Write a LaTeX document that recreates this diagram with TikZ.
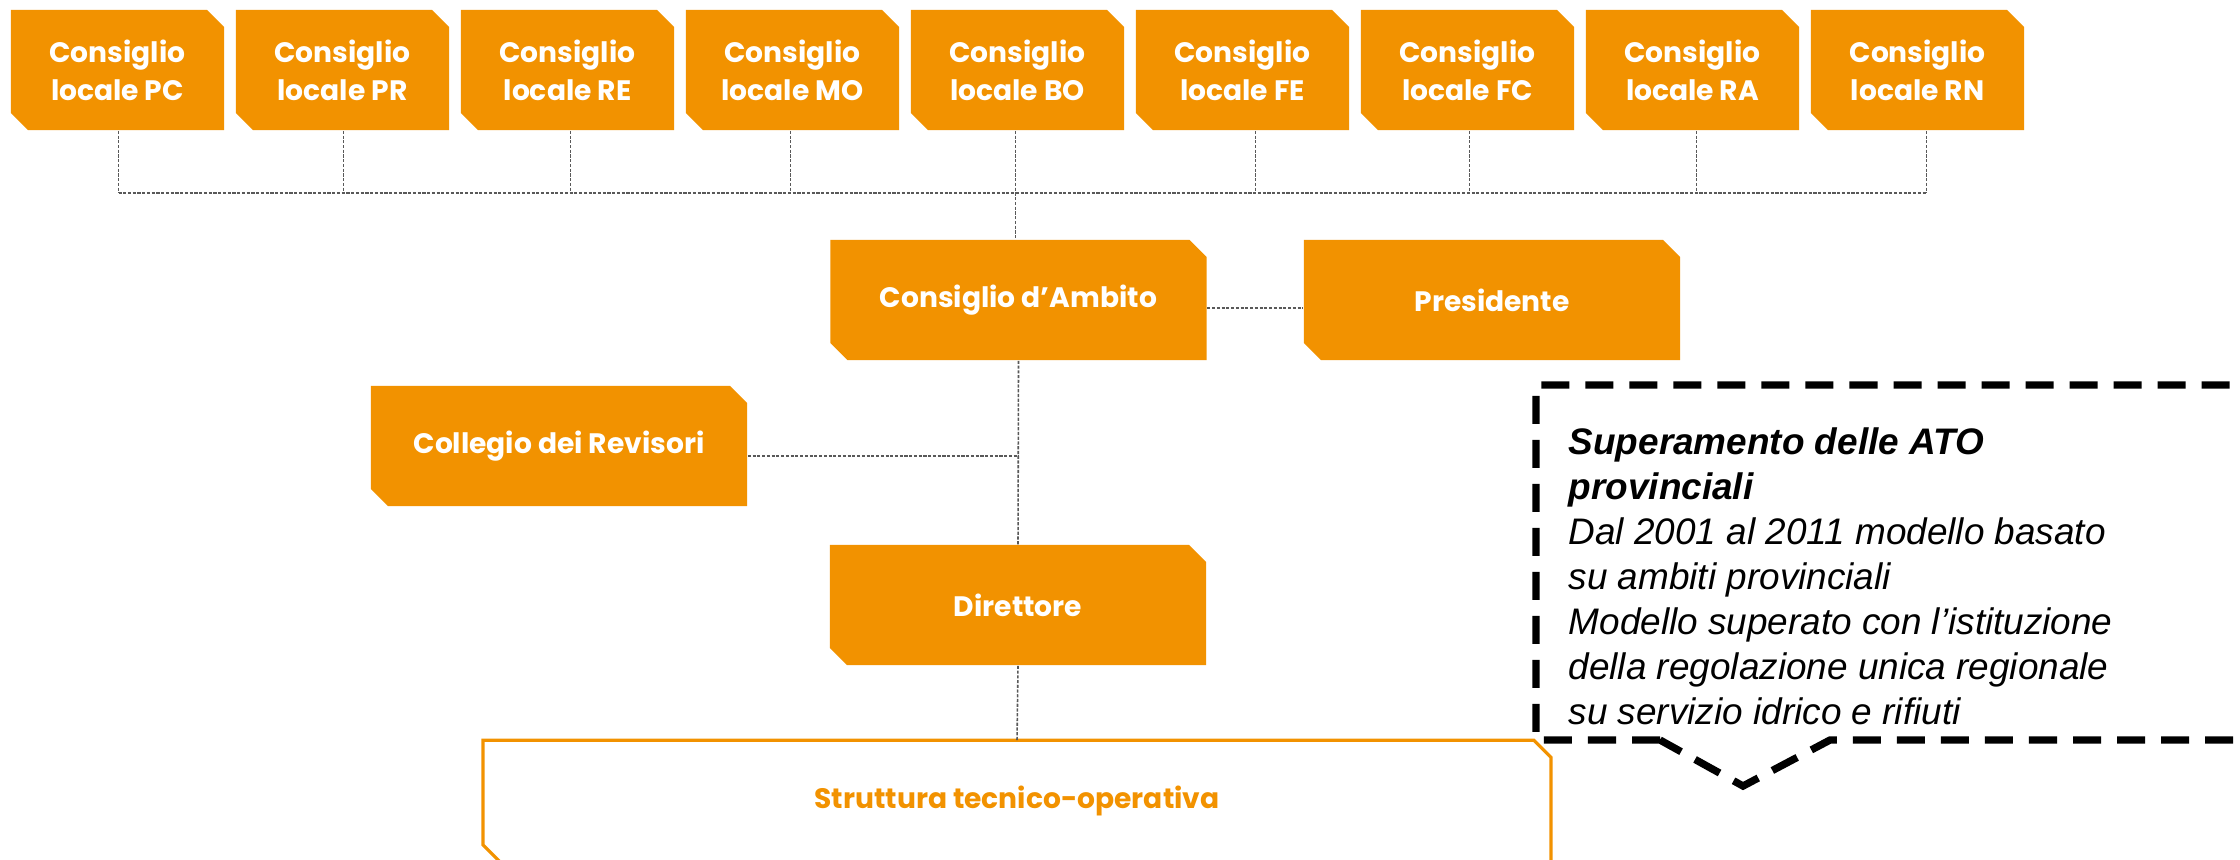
\documentclass[tikz,border=0pt]{standalone}
\usepackage{fontspec}
\newfontfamily\boxfont{Poppins}
\newfontfamily\notefont{Liberation Sans}
\usetikzlibrary{calc}
\definecolor{accent}{RGB}{242,146,0}
\newcommand{\cutsize}{0.17cm}
\tikzset{snipbox/.style={
  rectangle,
  fill=white,
  text=white,
  inner sep=0pt,
  align=center,
  minimum width=3.76cm,
  minimum height=1.2cm,
  font=\boxfont\bfseries\fontsize{8}{10.8}\selectfont,
  path picture={
    \fill[accent] (path picture bounding box.north west)
      -- ([xshift=-\cutsize]path picture bounding box.north east)
      -- ([yshift=-\cutsize]path picture bounding box.north east)
      -- (path picture bounding box.south east)
      -- ([xshift=\cutsize]path picture bounding box.south west)
      -- ([yshift=\cutsize]path picture bounding box.south west)
      -- cycle;}}}
\tikzset{link/.style={
  draw=black!65,
  line width=0.45pt,
  dash pattern=on 0.9pt off 0.45pt}}
\tikzset{callout/.style={
  draw=black,
  line width=2.1pt,
  dash pattern=on 0.28cm off 0.16cm}}

\begin{document}
\begin{tikzpicture}[x=0.01cm,y=-0.01cm]
  \useasboundingbox (0,0) rectangle (2240,859);
  \clip (0,0) rectangle (2240,859);

  %% Local councils on top
  \foreach \name [count=\i from 0] in {PC,PR,RE,MO,BO,FE,FC,RA,RN}{
    \node[snipbox, minimum width=2.13cm] (\name) at (117.5+225*\i,70) {Consiglio\\locale \name};
  }
  \foreach \name/\dx in {PC/1,PR/1,RE/3,MO/-2,BO/-2,FE/13,FC/2,RA/4,RN/9}{
    \draw[link] ($(\name.south)+(\dx,0)$) -- ++(0,62);
  }
  \draw[link] ($(PC.south)+(1,62)$) -- ($(RN.south)+(9,62)$);

  %% Governing bodies
  \node[snipbox] (amb) at (1018.5,300) {Consiglio d’Ambito};
  \node[snipbox] (pres) at (1492,300) {Presidente};
  \node[snipbox] (rev) at (559,446) {Collegio dei Revisori};
  \node[snipbox] (dir) at (1018,605) {Direttore};
  \node[inner sep=0pt, minimum width=10.66cm, minimum height=1.2cm, text=accent,
    font=\boxfont\bfseries\fontsize{8}{10.8}\selectfont] (tec) at (1017,801) {Struttura tecnico-operativa};
  \draw[accent, line width=0.9pt] (tec.north west)
    -- ([xshift=-\cutsize]tec.north east) -- ([yshift=-\cutsize]tec.north east)
    -- (tec.south east) -- ([xshift=\cutsize]tec.south west)
    -- ([yshift=\cutsize]tec.south west) -- cycle;

  %% Connectors
  \draw[link] ($(BO.south)+(-2,0)$) -- ($(BO.south |- amb.north)+(-2,0)$);
  \draw[link] ([yshift=-0.08cm]amb.east) -- ([yshift=-0.08cm]pres.west);
  \draw[link] (amb.south) -- (dir.north);
  \draw[link] ([yshift=-0.1cm]rev.east) -- ([yshift=-0.1cm]rev.east -| amb.south);
  \draw[link] (dir.south) -- (tec.north);

  %% Note box
  \draw[callout] (1660,740) -- (1536,740) -- (1536,385) -- (2260,385)
    -- (2260,740) -- (1830,740) -- (1743,786) -- cycle;
  \node[anchor=north west, inner sep=0pt, align=left,
    font=\notefont\itshape\fontsize{10.5}{12.8}\selectfont] (note) at (1568,427)
    {\textbf{Superamento delle ATO}\\
     \textbf{provinciali}\\
     Dal 2001 al 2011 modello basato\\
     su ambiti provinciali\\
     Modello superato con l’istituzione\\
     della regolazione unica regionale\\
     su servizio idrico e rifiuti};
\end{tikzpicture}
\end{document}
